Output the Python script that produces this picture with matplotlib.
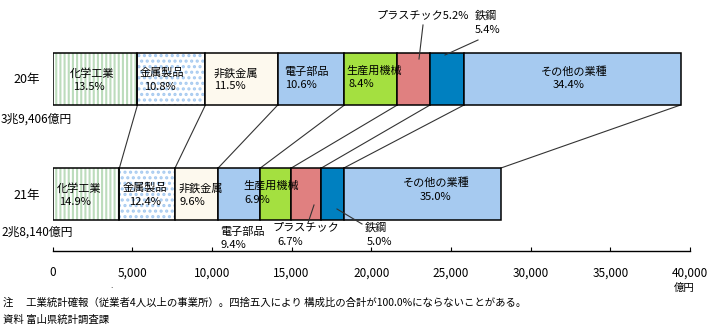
import matplotlib
matplotlib.use("Agg")
import matplotlib.pyplot as plt
import numpy as np

plt.rcParams['font.family'] = ['Noto Sans CJK JP', 'DejaVu Sans']
plt.rcParams['hatch.linewidth'] = 1.5

# ---- data ----
categories = ['化学工業', '金属製品', '非鉄金属', '電子部品', '生産用機械', 'プラスチック', '鉄鋼', 'その他の業種']
pct_20 = [13.5, 10.8, 11.5, 10.6, 8.4, 5.2, 5.4, 34.4]
pct_21 = [14.9, 12.4, 9.6, 9.4, 6.9, 6.7, 5.0, 35.0]
total_20 = 39406
total_21 = 28140
year_labels = ['20年', '21年']
total_labels = ['3兆9,406億円', '2兆8,140億円']
xticks = [0, 5000, 10000, 15000, 20000, 25000, 30000, 35000, 40000]
xticklabels = ['0', '5,000', '10,000', '15,000', '20,000', '25,000', '30,000', '35,000', '40,000']

# ---- style ----
colors = ['white', 'white', '#fdf9ee', '#a6caf0', '#a4e040', '#e08080', '#0080c0', '#a6caf0']
hatch_colors = ['#bcdcbc', '#a6caf0', None, None, None, None, None, None]
hatches = ['||||', '...', None, None, None, None, None, None]

W, H = 711, 330
fig = plt.figure(figsize=(W / 100, H / 100), dpi=100)
x0px, x1px = 52.5, 690.0
axis_y = 251
ax = fig.add_axes([x0px / W, (H - axis_y) / H, (x1px - x0px) / W, axis_y / H])
ax.set_xlim(0, 40000)
ax.set_ylim(axis_y, 0)
PX = 40000 / (x1px - x0px)  # data units per pixel

def segs(pcts, total):
    s = sum(pcts)
    vals = np.array([total * p / s for p in pcts])
    starts = np.concatenate([[0], np.cumsum(vals)[:-1]])
    return starts, vals

bar_y = [79, 194]
bar_h = 52
all_segs = []
for yi, (pcts, total) in enumerate([(pct_20, total_20), (pct_21, total_21)]):
    starts, vals = segs(pcts, total)
    all_segs.append((starts, vals))
    for i in range(len(categories)):
        if hatches[i]:
            ax.barh(bar_y[yi], vals[i], left=starts[i], height=bar_h, color=colors[i],
                    edgecolor=hatch_colors[i], hatch=hatches[i], linewidth=0, zorder=2)
            ax.barh(bar_y[yi], vals[i], left=starts[i], height=bar_h, facecolor='none',
                    edgecolor='black', linewidth=1.1, zorder=3)
        else:
            ax.barh(bar_y[yi], vals[i], left=starts[i], height=bar_h, color=colors[i],
                    edgecolor='black', linewidth=1.1, zorder=3)

# connector lines
s20, v20 = all_segs[0]
s21, v21 = all_segs[1]
e20 = s20 + v20
e21 = s21 + v21
for i in range(len(categories)):
    ax.plot([e20[i], e21[i]], [bar_y[0] + bar_h / 2, bar_y[1] - bar_h / 2],
            color='#333333', lw=0.8, zorder=1)

fs = 8
# inside labels: (index, name dx px, name y, pct dx px, pct y)
inside_20 = [(0, 40, 73, 36, 87), (1, 24, 73, 22, 87), (2, 30, 73, 24, 86),
             (3, 29, 72, 23, 85), (4, 30, 71, 17, 84), (7, 110, 72, 105, 85)]
inside_21 = [(0, 27, 188, 23, 202), (1, 26, 188, 26, 202), (2, 26, 188, 17, 202),
             (4, 11, 186, -3, 200), (7, 92, 183, 92, 197)]
for (starts, pcts, lst) in [(s20, pct_20, inside_20), (s21, pct_21, inside_21)]:
    for i, ndx, ny, pdx, py in lst:
        ax.text(starts[i] + ndx * PX, ny, categories[i], ha='center', va='center',
                fontsize=fs, zorder=5)
        ax.text(starts[i] + pdx * PX, py, f'{pcts[i]:.1f}%', ha='center', va='center',
                fontsize=fs, zorder=5)

def xp(px):
    return (px - x0px) * PX

# outside labels, top bar
ax.text(xp(423), 15, f'{categories[5]}{pct_20[5]:.1f}%', ha='center', va='center', fontsize=fs)
ax.plot([xp(423), xp(419)], [25, 59], color='#333333', lw=0.8, zorder=4)
ax.text(xp(486), 15, categories[6], ha='center', va='center', fontsize=fs)
ax.text(xp(488), 30, f'{pct_20[6]:.1f}%', ha='center', va='center', fontsize=fs)
ax.plot([xp(478), xp(445)], [40, 55], color='#333333', lw=0.8, zorder=4)

# outside labels, bottom bar
ax.text(xp(242), 232, categories[3], ha='center', va='center', fontsize=fs)
ax.text(xp(233), 245, f'{pct_21[3]:.1f}%', ha='center', va='center', fontsize=fs)
ax.text(xp(306), 227, categories[5], ha='center', va='center', fontsize=fs)
ax.text(xp(290), 242, f'{pct_21[5]:.1f}%', ha='center', va='center', fontsize=fs)
ax.plot([xp(314), xp(308)], [205, 223], color='#333333', lw=0.8, zorder=4)
ax.text(xp(376), 227, categories[6], ha='center', va='center', fontsize=fs)
ax.text(xp(379), 242, f'{pct_21[6]:.1f}%', ha='center', va='center', fontsize=fs)
ax.plot([xp(337), xp(362)], [209, 224], color='#333333', lw=0.8, zorder=4)

# year and total labels
ax.text(xp(27), 80, year_labels[0], ha='center', va='center', fontsize=9)
ax.text(xp(1), 119, total_labels[0], ha='left', va='center', fontsize=8.5)
ax.text(xp(27), 195, year_labels[1], ha='center', va='center', fontsize=9)
ax.text(xp(1), 232, total_labels[1], ha='left', va='center', fontsize=8.5)

# axes styling
for sp in ['top', 'left', 'right']:
    ax.spines[sp].set_visible(False)
ax.spines['bottom'].set_linewidth(1.0)
ax.set_yticks([])
ax.set_xticks(xticks)
ax.set_xticklabels(xticklabels, fontsize=8.5)
ax.tick_params(axis='x', direction='in', length=3, width=0.8, pad=11)

fig.text(684 / W, 1 - 288 / H, '億円', ha='center', va='center', fontsize=7.5)
fig.text(112 / W, 1 - 286 / H, '.', ha='center', va='center', fontsize=6)
fig.text(3 / W, 1 - 303 / H,
         '注　 工業統計確報（従業者4人以上の事業所）。四捨五入により 構成比の合計が100.0%にならないことがある。',
         ha='left', va='center', fontsize=7.5)
fig.text(3 / W, 1 - 320 / H, '資料 富山県統計調査課', ha='left', va='center', fontsize=7.5)

fig.savefig('out.png', dpi=100)
